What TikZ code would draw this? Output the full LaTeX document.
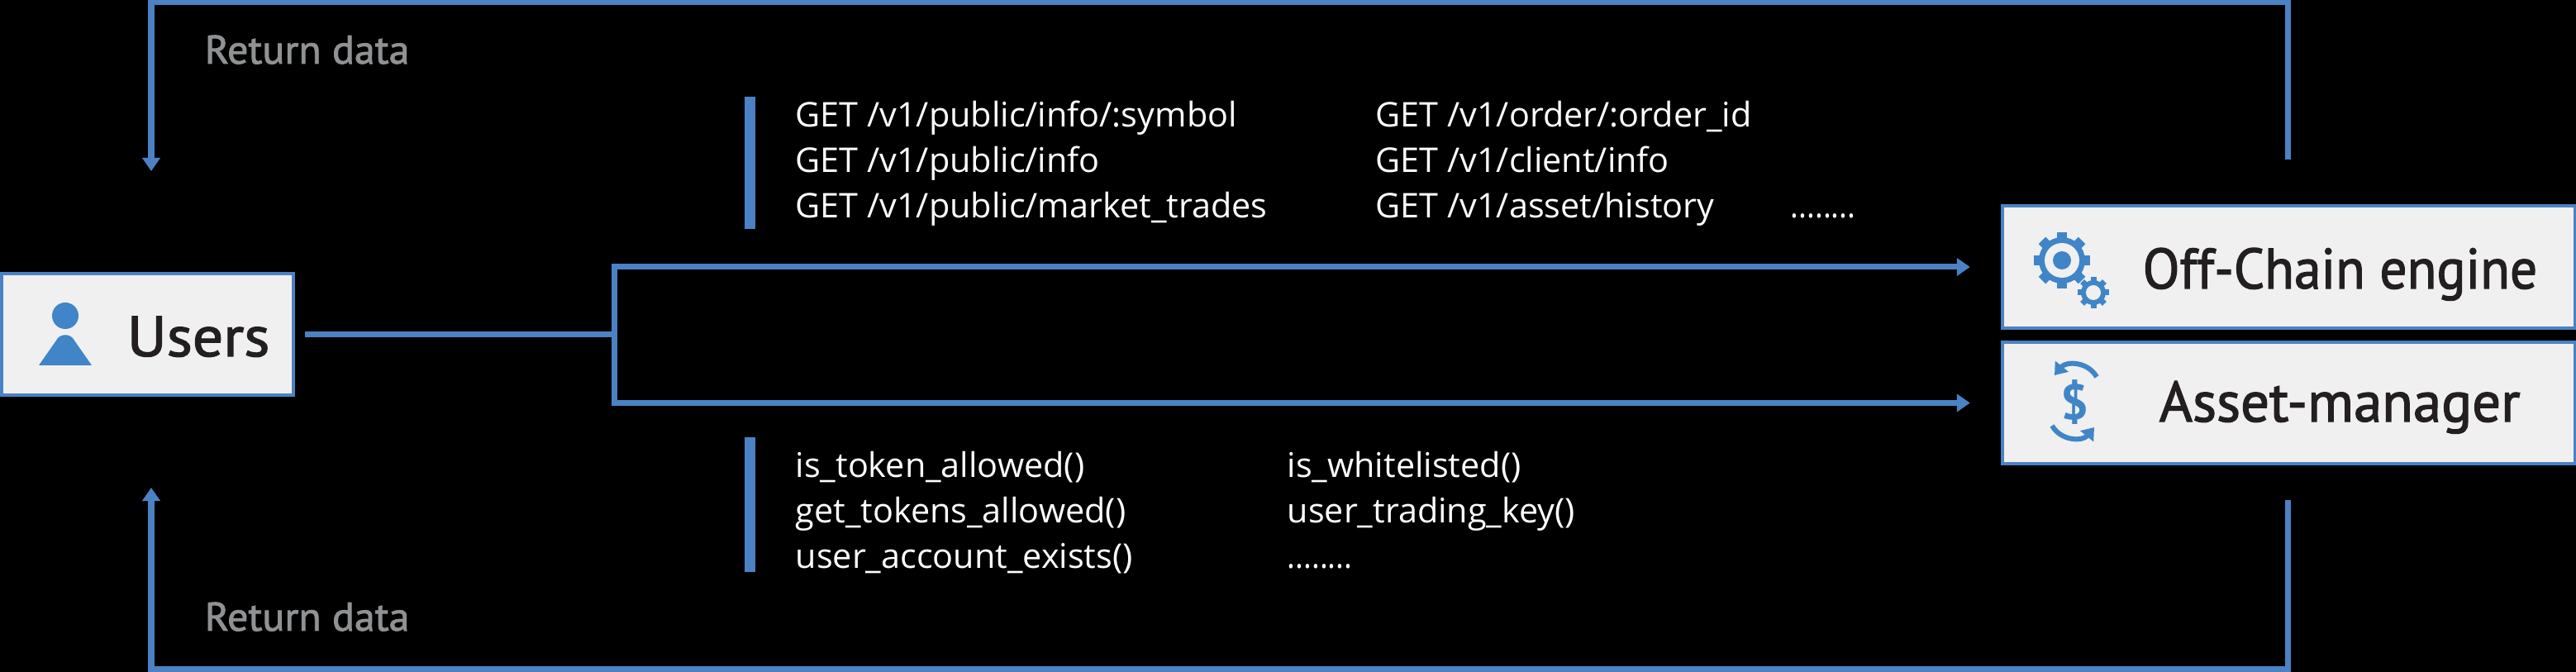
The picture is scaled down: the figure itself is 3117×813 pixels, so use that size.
\documentclass[tikz,border=0pt]{standalone}
\usepackage{fontspec}
\usetikzlibrary{arrows.meta}
\newfontfamily\codefont[FakeStretch=1.005]{Open Sans}
\newfontfamily\dotsfont[FakeStretch=0.9]{Open Sans}
\newfontfamily\labelfont[FakeBold=1.8]{PT Sans}
\newfontfamily\dollarfont[Ligatures=TeX]{PT Sans Bold}
\definecolor{lineblue}{HTML}{4A82C4}
\definecolor{iconblue}{HTML}{3F85C8}
\definecolor{boxfill}{HTML}{F0F0F0}
\definecolor{darktext}{HTML}{231F20}
\definecolor{grayl}{HTML}{8F9193}
\tikzset{
  conn/.style={draw=lineblue,line width=.07cm},
  headtip/.style={-{Triangle[length=.16cm,width=.21cm]}},
  sidebar/.style={fill=lineblue},
  blockbox/.style={draw=lineblue,fill=boxfill,line width=.045cm,rectangle,inner sep=0,outer sep=0},
  blocklabel/.style={font=\labelfont\fontsize{19.6pt}{22pt}\selectfont,text=darktext,anchor=base west,inner sep=0},
  retlabel/.style={font=\labelfont\fontsize{13.8pt}{16pt}\selectfont,text=grayl,anchor=base west,inner sep=0},
  codetext/.style={font=\codefont\fontsize{11.7pt}{14pt}\selectfont,text=white,anchor=base west,inner sep=0},
  dotstext/.style={font=\dotsfont\fontsize{11.7pt}{14pt}\selectfont,text=white,anchor=base west,inner sep=0},
  icon/.style={fill=iconblue},
  iconline/.style={draw=iconblue,line width=.06cm},
}
\begin{document}
\begin{tikzpicture}[x=.01cm,y=-.01cm]
\fill[black] (0,0) rectangle (3117,813);
\useasboundingbox (0,0) rectangle (3117,813);
% boxes
\node[blockbox,minimum width=3.53cm,minimum height=1.47cm] (users) at (178.5,404.5) {};
\node[blockbox,minimum width=6.93cm,minimum height=1.48cm] (off) at (2769.5,323) {};
\node[blockbox,minimum width=6.93cm,minimum height=1.47cm] (asset) at (2769.5,487.5) {};
\node[blocklabel] (userstxt) at (153,431) {\scalebox{1.07}[1]{Users}};
\node[blocklabel] (offtxt) at (2592,349) {\scalebox{.95}[1]{Off-Chain engine}};
\node[blocklabel] (assettxt) at (2612,510) {\scalebox{1.0}[1]{Asset-manager}};
% connectors
\coordinate (junction) at (743.5,404.5);
\coordinate (ret1s) at (2768.5,193);
\coordinate (ret1e) at (183,207);
\coordinate (ret2s) at (2768.5,605);
\coordinate (ret2e) at (183,590);
\draw[conn] ([xshift=.14cm]users.east) -- (junction);
\draw[conn,headtip] (junction) |- ([xshift=-.39cm]off.west);
\draw[conn,headtip] (junction) |- ([xshift=-.39cm]asset.west);
\draw[conn,headtip] (ret1s) -- (2768.5,3) -- (183,3) -- (ret1e);
\draw[conn,headtip] (ret2s) -- (2768.5,810) -- (183,810) -- (ret2e);
% return labels
\node[retlabel] (ret1) at (247,77) {\scalebox{1.03}[1]{Return data}};
\node[retlabel] (ret2) at (247,763) {\scalebox{1.03}[1]{Return data}};
% side bars
\fill[sidebar] (901,117) rectangle (914,277);
\fill[sidebar] (901,529) rectangle (914,692);
% code text
\node[codetext] (a1) at (962,154) {GET /v1/public/info/:symbol};
\node[codetext] (a2) at (962,209) {GET /v1/public/info};
\node[codetext] (a3) at (962,264) {GET /v1/public/market\_trades};
\node[codetext] (b1) at (1664,154) {GET /v1/order/:order\_id};
\node[codetext] (b2) at (1664,209) {GET /v1/client/info};
\node[codetext] (b3) at (1664,264) {GET /v1/asset/history};
\node[dotstext] (b4) at (2166,264) {........};
\node[codetext] (c1) at (962,578) {is\_token\_allowed()};
\node[codetext] (c2) at (962,633) {get\_tokens\_allowed()};
\node[codetext] (c3) at (962,688) {user\_account\_exists()};
\node[codetext] (d1) at (1557,578) {is\_whitelisted()};
\node[codetext] (d2) at (1557,633) {user\_trading\_key()};
\node[dotstext] (d3) at (1557,688) {........};
% user icon
\fill[icon] (79,382) circle[radius=16];
\fill[icon] (47,442) -- (68,412) .. controls (72,403) and (86,403) .. (90,412) -- (111,442) -- cycle;
% gears
\fill[icon] (2495,315) circle[radius=28];
\foreach \a in {0,45,...,315}
  \fill[icon,shift={(2495,315)},rotate=\a] (-6,-34) rectangle (6,0);
\fill[boxfill] (2495,315) circle[radius=21];
\fill[icon] (2495,315) circle[radius=11];
\fill[icon] (2533,354) circle[radius=15];
\foreach \a in {0,45,...,315}
  \fill[icon,shift={(2533,354)},rotate=\a] (-3.5,-19) rectangle (3.5,0);
\fill[boxfill] (2533,354) circle[radius=9];
% dollar icon
\node[font=\dollarfont\fontsize{17pt}{20pt}\selectfont,text=iconblue,inner sep=0] (dollar) at (2510,487) {\$};
\draw[iconline,-{Triangle[length=.14cm,width=.2cm]}] (2537,456) .. controls (2526,437) and (2500,437) .. (2486,454);
\draw[iconline,-{Triangle[length=.14cm,width=.2cm]}] (2483,515) .. controls (2494,534) and (2520,534) .. (2534,517);
\end{tikzpicture}
\end{document}
